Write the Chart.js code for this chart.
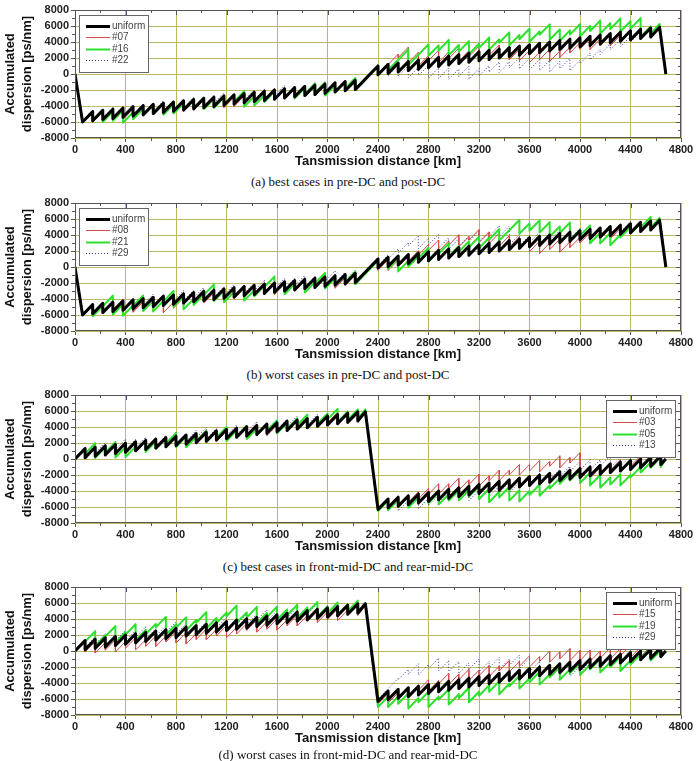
<!DOCTYPE html>
<html>
<head>
<meta charset="utf-8">
<script src="https://cdn.jsdelivr.net/npm/chart.js@4.4.0/dist/chart.umd.min.js"></script>
<style>
body { margin: 0; background: #fff; }
#wrap { position: relative; width: 696px; height: 761px; overflow: hidden; }
canvas { position: absolute; left: 0; }
.cap { position: absolute; left: 0; width: 696px; text-align: center; font: 13px "Liberation Serif", "Times New Roman", serif; color: #111; line-height: 16px; }
</style>
</head>
<body>
<div id="wrap">
  <canvas id="chartA" width="696" height="172" style="top:0px"></canvas>
  <div class="cap" id="capA" style="top:174px"></div>
  <canvas id="chartB" width="696" height="172" style="top:193px"></canvas>
  <div class="cap" id="capB" style="top:367px"></div>
  <canvas id="chartC" width="696" height="172" style="top:385px"></canvas>
  <div class="cap" id="capC" style="top:559px"></div>
  <canvas id="chartD" width="696" height="172" style="top:577px"></canvas>
  <div class="cap" id="capD" style="top:747px"></div>
</div>
<script>
// tick labels
const xTicks = [0, 400, 800, 1200, 1600, 2000, 2400, 2800, 3200, 3600, 4000, 4400, 4800];
const yTicks = [-8000, -6000, -4000, -2000, 0, 2000, 4000, 6000, 8000];

const captions = [
  '(a) best cases in pre-DC and post-DC',
  '(b) worst cases in pre-DC and post-DC',
  '(c) best cases in front-mid-DC and rear-mid-DC',
  '(d) worst cases in front-mid-DC and rear-mid-DC'
];
const labelsA = ['uniform', '#07', '#16', '#22'];
const labelsB = ['uniform', '#08', '#21', '#29'];
const labelsC = ['uniform', '#03', '#05', '#13'];
const labelsD = ['uniform', '#15', '#19', '#29'];

// DCF positions [km] : pre-DC / post-DC maps (a, b)
const kmAB = [0,60,140,220,300,380,460,540,620,700,780,860,940,1020,1100,1180,1260,1340,1420,1500,1580,1660,1740,1820,1900,1980,2060,2140,2220,2400,2480,2560,2640,2720,2800,2880,2960,3040,3120,3200,3280,3360,3440,3520,3600,3680,3760,3840,3920,4000,4080,4160,4240,4320,4400,4480,4560,4630,4680];
// accumulated dispersion before (hi) and after (lo) each DCF [ps/nm]
const uniHiAB = [0,-6000,-4700,-4550,-4400,-4250,-4100,-3950,-3800,-3650,-3500,-3350,-3200,-3050,-2900,-2750,-2600,-2450,-2300,-2150,-2000,-1850,-1700,-1550,-1400,-1250,-1100,-950,-800,1000,1200,1375,1550,1725,1900,2075,2250,2425,2600,2775,2950,3125,3300,3475,3650,3825,4000,4175,4350,4525,4700,4875,5050,5225,5400,5575,5750,5850,0];
const uniLoAB = [0,-6000,-5850,-5700,-5550,-5400,-5250,-5100,-4950,-4800,-4650,-4500,-4350,-4200,-4050,-3900,-3750,-3600,-3450,-3300,-3150,-3000,-2850,-2700,-2550,-2400,-2250,-2100,-1950,-100,75,250,425,600,775,950,1125,1300,1475,1650,1825,2000,2175,2350,2525,2700,2875,3050,3225,3400,3575,3750,3925,4100,4275,4450,4625,5850,0];

const a07Hi = [0,-6000,-4700,-4750,-4600,-4250,-4400,-4250,-3900,-3750,-3400,-3250,-3400,-3250,-2900,-2750,-2900,-2750,-2300,-1950,-1800,-1950,-1800,-1450,-1300,-1450,-1300,-950,-800,1000,1200,2475,3350,2725,2300,2975,2750,3225,2900,3475,3150,3625,3300,3075,2950,2725,3100,2875,3350,3925,4400,4375,4850,4825,5400,5375,5850,5850,0];
const a07Lo = [0,-6000,-6050,-5900,-5550,-5700,-5550,-5200,-5050,-4700,-4550,-4700,-4550,-4200,-4050,-4200,-4050,-3600,-3250,-3100,-3250,-3100,-2750,-2600,-2750,-2600,-2250,-2100,-1950,-100,1175,2050,1425,1000,1675,1450,1925,1600,2175,1850,2325,2000,1775,1650,1425,1800,1575,2050,2625,3100,3075,3550,3525,4100,4075,4550,4625,5850,0];
const a16Hi = [0,-6000,-4700,-4550,-4700,-4550,-4800,-4350,-3900,-3650,-3800,-3650,-3100,-2950,-3100,-2950,-2600,-2150,-2800,-2650,-2200,-1850,-1700,-1750,-1200,-1050,-1400,-950,-500,1100,1200,1775,3050,2425,3700,3575,4250,3625,4100,3775,4550,4325,5200,4875,5650,5325,6200,5575,5450,6225,6000,6675,6350,6925,6600,6975,5950,6250,0];
const a16Lo = [0,-6000,-5850,-6000,-5850,-6100,-5650,-5200,-4950,-5100,-4950,-4400,-4250,-4400,-4250,-3900,-3450,-4100,-3950,-3500,-3150,-3000,-3050,-2500,-2350,-2700,-2250,-1800,-1850,-100,475,1750,1125,2400,2275,2950,2325,2800,2475,3250,3025,3900,3575,4350,4025,4900,4275,4150,4925,4700,5375,5050,5625,5300,5675,4650,5025,6250,0];
const a22Hi = [0,-6000,-4700,-4350,-4200,-4250,-3800,-3850,-3600,-3350,-3400,-3150,-2900,-3050,-2700,-2350,-2500,-2250,-2000,-2050,-1800,-1450,-1500,-1450,-1100,-1050,-1100,-750,-500,1100,1200,1075,1050,825,1100,775,750,625,1000,675,1050,1525,1500,2075,1950,1825,1700,1575,1950,1725,2600,3075,3750,4325,4700,5275,5850,6350,0];
const a22Lo = [0,-6000,-5650,-5500,-5550,-5100,-5150,-4900,-4650,-4700,-4450,-4200,-4350,-4000,-3650,-3800,-3550,-3300,-3350,-3100,-2750,-2800,-2750,-2400,-2350,-2400,-2050,-1800,-1850,-100,-225,-250,-475,-200,-525,-550,-675,-300,-625,-250,225,200,775,650,525,400,275,650,425,1300,1775,2450,3025,3400,3975,4550,5125,6350,0];

const b08Hi = [0,-6000,-4700,-4850,-4500,-4050,-4300,-4350,-3800,-4250,-4400,-3850,-3400,-3050,-3200,-2850,-2500,-2650,-2300,-1950,-2100,-2150,-1600,-1750,-1400,-1050,-1200,-1350,-1000,1000,900,875,1350,2025,2800,3375,3250,4025,3800,4675,4350,4225,3900,3775,3450,3225,3000,3475,3150,3725,4300,4275,4850,4825,5500,5375,5950,5850,0];
const b08Lo = [0,-6000,-6150,-5800,-5350,-5600,-5650,-5100,-5550,-5700,-5150,-4700,-4350,-4500,-4150,-3800,-3950,-3600,-3250,-3400,-3450,-2900,-3050,-2700,-2350,-2500,-2650,-2300,-1950,-400,-425,50,725,1500,2075,1950,2725,2500,3375,3050,2925,2600,2475,2150,1925,1700,2175,1850,2425,3000,2975,3550,3525,4200,4075,4650,4625,5850,0];
const b21Hi = [0,-6000,-4700,-4850,-3600,-4650,-4800,-3550,-4200,-4250,-3000,-3650,-4000,-3450,-2200,-2950,-3100,-2450,-2900,-2350,-1200,-1950,-2100,-1550,-1900,-750,-1400,-1050,-600,800,1200,1075,750,1325,2400,1975,2950,2625,3200,3775,3650,4725,4600,5875,5450,5825,5600,5075,5550,4625,5200,4275,4250,4025,5000,5475,6250,6150,0];
const b21Lo = [0,-6000,-6150,-4900,-5950,-6100,-4850,-5500,-5550,-4300,-4950,-5300,-4750,-3500,-4250,-4400,-3750,-4200,-3650,-2500,-3250,-3400,-2850,-3200,-2050,-2700,-2350,-1900,-2150,-100,-225,-550,25,1100,675,1650,1325,1900,2475,2350,3425,3300,4575,4150,4525,4300,3775,4250,3325,3900,2975,2950,2725,3700,4175,4950,4925,6150,0];
const b29Hi = [0,-6000,-4700,-4450,-4100,-4050,-4100,-3650,-3400,-3450,-3400,-2950,-2900,-2550,-2700,-2450,-2200,-2350,-2000,-1650,-1800,-1450,-1400,-1050,-1200,-950,-500,-650,-400,1200,1500,2275,3050,3925,3600,4075,3650,3525,3900,4475,4450,5125,5100,4075,3950,4325,4200,4575,4350,4825,4800,4675,5250,5125,5700,5575,6150,6050,0];
const b29Lo = [0,-6000,-5750,-5400,-5350,-5400,-4950,-4700,-4750,-4700,-4250,-4200,-3850,-4000,-3750,-3500,-3650,-3300,-2950,-3100,-2750,-2700,-2350,-2500,-2250,-1800,-1950,-1700,-1750,200,975,1750,2625,2300,2775,2350,2225,2600,3175,3150,3825,3800,2775,2650,3025,2900,3275,3050,3525,3500,3375,3950,3825,4400,4275,4850,4825,6050,0];

// DCF positions [km] : front-mid / rear-mid maps (c, d)
const kmCD = [0,80,160,240,320,400,480,560,640,720,800,880,960,1040,1120,1200,1280,1360,1440,1520,1600,1680,1760,1840,1920,2000,2080,2160,2240,2300,2400,2480,2560,2640,2720,2800,2880,2960,3040,3120,3200,3280,3360,3440,3520,3600,3680,3760,3840,3920,4000,4080,4160,4240,4320,4400,4480,4560,4640,4680];
const uniHiCD = [0,1300,1470,1640,1810,1980,2150,2320,2490,2660,2830,3000,3170,3340,3510,3680,3850,4020,4190,4360,4530,4700,4870,5040,5210,5380,5550,5720,5890,5900,-6300,-5000,-4800,-4600,-4400,-4200,-4000,-3800,-3600,-3400,-3200,-3000,-2800,-2600,-2400,-2200,-2000,-1800,-1600,-1400,-1200,-1000,-800,-600,-400,-200,0,200,400,0];
const uniLoCD = [0,170,340,510,680,850,1020,1190,1360,1530,1700,1870,2040,2210,2380,2550,2720,2890,3060,3230,3400,3570,3740,3910,4080,4250,4420,4590,4760,5900,-6300,-6100,-5900,-5700,-5500,-5300,-5100,-4900,-4700,-4500,-4300,-4100,-3900,-3700,-3500,-3300,-3100,-2900,-2700,-2500,-2300,-2100,-1900,-1700,-1500,-1300,-1100,-900,-700,0];

const c03Hi = [0,1300,1570,1540,2010,1980,1950,2420,2390,2860,2830,2800,3270,3640,3510,3480,3950,3920,4390,4360,4230,4800,4870,5240,5110,5480,5850,5720,5690,5900,-6300,-5000,-4600,-4600,-4100,-3700,-3100,-3100,-2400,-2600,-1900,-2100,-1400,-1400,-700,-700,-200,-300,400,200,800,-1000,-1100,-600,-100,-100,400,400,400,0];
const c03Lo = [0,270,240,710,680,650,1120,1090,1560,1530,1500,1970,2340,2210,2180,2650,2620,3090,3060,2930,3500,3570,3940,3810,4180,4550,4420,4390,4760,5900,-6300,-5900,-5900,-5400,-5000,-4400,-4400,-3700,-3900,-3200,-3400,-2700,-2700,-2000,-2000,-1500,-1600,-900,-1100,-500,-2300,-2400,-1900,-1400,-1400,-900,-900,-900,-700,0];
const c05Hi = [0,1300,1970,1440,2110,1480,1550,2320,2190,2560,3230,2800,2770,3540,3410,3980,3550,4120,3790,4360,4830,4500,5070,5540,5210,5680,6250,5920,6190,6200,-6500,-5200,-5100,-4700,-4800,-4200,-4200,-4400,-3900,-3900,-3400,-3700,-4100,-3500,-3900,-4000,-3200,-3300,-2400,-1800,-1400,-1700,-2000,-2300,-1900,-2000,-1000,-400,200,0];
const c05Lo = [0,670,140,810,180,250,1020,890,1260,1930,1500,1470,2240,2110,2680,2250,2820,2490,3060,3530,3200,3770,4240,3910,4380,4950,4620,4890,5060,6200,-6500,-6400,-6000,-6100,-5500,-5500,-5700,-5200,-5200,-4700,-5000,-5400,-4800,-5200,-5300,-4500,-4600,-3700,-3100,-2700,-3000,-3300,-3600,-3200,-3300,-2300,-1700,-1100,-1000,0];
const c13Hi = [0,1300,1770,2040,2010,2480,2450,2720,2590,2960,3330,3200,3570,3940,3810,3880,4250,4320,4690,4560,4930,5000,5370,5240,5610,5680,5650,6020,6090,5900,-6300,-5000,-5100,-5200,-4800,-4900,-4500,-4100,-3700,-3800,-3900,-3900,-3400,-2900,-2900,-2200,-1800,-2000,-1300,-900,-300,-100,-100,400,200,400,800,500,500,0];
const c13Lo = [0,470,740,710,1180,1150,1420,1290,1660,2030,1900,2270,2640,2510,2580,2950,3020,3390,3260,3630,3700,4070,3940,4310,4380,4350,4720,4790,4760,5900,-6300,-6400,-6500,-6100,-6200,-5800,-5400,-5000,-5100,-5200,-5200,-4700,-4200,-4200,-3500,-3100,-3300,-2600,-2200,-1600,-1400,-1400,-900,-1100,-900,-500,-800,-800,-700,0];

const d15Hi = [0,1300,1170,1040,1410,1180,1650,1420,1890,1860,2430,2300,2170,2740,2710,3180,2950,3420,3890,3660,4030,3900,4470,4440,5010,4880,5250,5120,5790,5600,-6600,-5300,-5200,-4500,-4600,-3600,-3700,-2800,-2900,-2300,-2400,-1800,-1900,-1200,-1300,-600,-700,0,-100,300,100,100,0,400,300,700,500,600,600,0];
const d15Lo = [0,-130,-260,110,-120,350,120,590,560,1130,1000,870,1440,1410,1880,1650,2120,2590,2360,2730,2600,3170,3140,3710,3580,3950,3820,4490,4460,5600,-6600,-6500,-5800,-5900,-4900,-5000,-4100,-4200,-3600,-3700,-3100,-3200,-2500,-2600,-1900,-2000,-1300,-1400,-1000,-1200,-1200,-1300,-900,-1000,-600,-800,-700,-700,-700,0];
const d19Hi = [0,1300,2470,1940,3110,2380,3350,2620,3390,4260,3330,4200,3870,4840,4110,4780,5650,4820,5490,4760,5530,5200,5770,5440,6110,5580,6050,5820,6290,6000,-7000,-5700,-5700,-5300,-5900,-5100,-5700,-4800,-5400,-4600,-5100,-4300,-3800,-4100,-3100,-3400,-2600,-2900,-2000,-2300,-1500,-1700,-1000,-1400,-700,-1200,-400,400,100,0];
const d19Lo = [0,1170,640,1810,1080,2050,1320,2090,2960,2030,2900,2570,3540,2810,3480,4350,3520,4190,3460,4230,3900,4470,4140,4810,4280,4750,4520,4990,4860,6000,-7000,-7000,-6600,-7200,-6400,-7000,-6100,-6700,-5900,-6400,-5600,-5100,-5400,-4400,-4700,-3900,-4200,-3300,-3600,-2800,-3000,-2300,-2700,-2000,-2500,-1700,-900,-1200,-800,0];
const d29Hi = [0,1300,1770,2140,2010,2580,2550,3020,2790,3160,3630,3400,3770,3640,4210,4180,4050,4620,4590,5160,5030,5000,5470,5440,5910,5680,6050,5920,6290,6000,-6000,-4700,-3400,-2300,-1600,-1700,-900,-1200,-1300,-1500,-1000,-1300,-800,-1000,-500,-900,-1300,-1800,-2100,-2300,-1900,-1400,-900,-400,-500,100,0,400,500,0];
const d29Lo = [0,470,840,710,1280,1250,1720,1490,1860,2330,2100,2470,2340,2910,2880,2750,3320,3290,3860,3730,3700,4170,4140,4610,4380,4750,4620,4990,4860,6000,-6000,-4700,-3600,-2900,-3000,-2200,-2500,-2600,-2800,-2300,-2600,-2100,-2300,-1800,-2200,-2600,-3100,-3400,-3600,-3200,-2700,-2200,-1700,-1800,-1200,-1300,-900,-800,-700,0];

const FONT = '"Liberation Sans", Arial, sans-serif';
const GRID = '#bdb862';
const AXIS = '#555';

// line look of uniform / 1st / 2nd / 3rd map
const looks = [
  { color: '#000000', width: 3, dash: [], order: 0 },
  { color: '#d44a4a', width: 1, dash: [], order: 2 },
  { color: '#2ee02e', width: 2, dash: [], order: 1 },
  { color: '#35359c', width: 1, dash: [1, 2], order: 3 }
];

// each DCF gives a vertical step from hi to lo at the same distance
function toPoints(km, hi, lo) {
  const pts = [];
  for (let i = 0; i < km.length; i++) {
    pts.push({ x: km[i], y: hi[i] });
    if (lo[i] !== hi[i]) pts.push({ x: km[i], y: lo[i] });
  }
  return pts;
}

const frame = {
  id: 'frame',
  afterDraw(chart) {
    const { ctx, chartArea: a, scales: { x, y } } = chart;
    ctx.save();
    ctx.strokeStyle = AXIS;
    ctx.lineWidth = 1;
    ctx.strokeRect(Math.round(a.left) + 0.5, Math.round(a.top) + 0.5,
      Math.round(a.right - a.left) - 1, Math.round(a.bottom - a.top) - 1);
    ctx.beginPath();
    for (let v = 200; v < 4800; v += 200) {
      const px = Math.round(x.getPixelForValue(v)) + 0.5;
      ctx.moveTo(px, a.top); ctx.lineTo(px, a.top + (v % 400 ? 3 : 5));
      if (v % 400) { ctx.moveTo(px, a.bottom); ctx.lineTo(px, a.bottom + 3); }
    }
    for (let v = -7000; v < 8000; v += 1000) {
      const py = Math.round(y.getPixelForValue(v)) + 0.5;
      ctx.moveTo(a.right, py); ctx.lineTo(a.right - (v % 2000 ? 3 : 5), py);
      if (v % 2000) { ctx.moveTo(a.left, py); ctx.lineTo(a.left - 3, py); }
    }
    ctx.stroke();
    ctx.restore();
  }
};

const boxLegend = {
  id: 'boxLegend',
  afterDraw(chart, args, opts) {
    const { ctx, chartArea: a } = chart;
    const w = 69, h = 57, row = 11.3;
    const x0 = opts.side === 'right' ? Math.round(a.right) - 6 - w : Math.round(a.left) + 4;
    const y0 = Math.round(a.top) + 5;
    ctx.save();
    ctx.fillStyle = '#fff';
    ctx.fillRect(x0, y0, w, h);
    ctx.strokeStyle = '#666';
    ctx.lineWidth = 1;
    ctx.strokeRect(x0 + 0.5, y0 + 0.5, w, h);
    ctx.font = '10px ' + FONT;
    ctx.textBaseline = 'middle';
    chart.data.datasets.forEach((ds, i) => {
      const yy = Math.round(y0 + 11 + i * row) + 0.5;
      ctx.beginPath();
      ctx.strokeStyle = ds.borderColor;
      ctx.lineWidth = ds.borderWidth;
      ctx.setLineDash(ds.borderDash || []);
      ctx.moveTo(x0 + 7, yy);
      ctx.lineTo(x0 + 31, yy);
      ctx.stroke();
      ctx.setLineDash([]);
      ctx.fillStyle = '#444';
      ctx.fillText(ds.label, x0 + 33, yy);
    });
    ctx.restore();
  }
};

function makeChart(id, km, series, labels, side) {
  const datasets = series.map((s, i) => ({
    label: labels[i],
    data: toPoints(km, s[0], s[1]),
    borderColor: looks[i].color,
    borderWidth: looks[i].width,
    borderDash: looks[i].dash,
    borderJoinStyle: 'round',
    order: looks[i].order,
    pointRadius: 0,
    fill: false,
    tension: 0
  }));
  return new Chart(document.getElementById(id), {
    type: 'line',
    data: { datasets },
    plugins: [frame, boxLegend],
    options: {
      responsive: false,
      animation: false,
      events: [],
      layout: { padding: { left: 0, right: 15, top: 10, bottom: 0 } },
      scales: {
        x: {
          type: 'linear', min: 0, max: 4800,
          afterBuildTicks: s => { s.ticks = xTicks.map(v => ({ value: v })); },
          afterFit: s => { s.height = 34; },
          grid: { color: GRID, lineWidth: 1, tickLength: 4, tickColor: AXIS },
          border: { display: false },
          ticks: { font: { family: FONT, size: 11, weight: 'bold' }, color: '#222', padding: 1,
            maxRotation: 0, autoSkip: false, callback: v => String(v) },
          title: { display: true, text: 'Tansmission distance [km]', color: '#111',
            font: { family: FONT, size: 13, weight: 'bold' }, padding: { top: 0, bottom: 3 } }
        },
        y: {
          min: -8000, max: 8000,
          afterBuildTicks: s => { s.ticks = yTicks.map(v => ({ value: v })); },
          afterFit: s => { s.width = 75; },
          grid: { color: GRID, lineWidth: 1, tickLength: 4, tickColor: AXIS },
          border: { display: false },
          ticks: { font: { family: FONT, size: 11, weight: 'bold' }, color: '#222', padding: 2,
            autoSkip: false, callback: v => String(v) },
          title: { display: true, text: ['Accumulated', 'dispersion [ps/nm]'], color: '#111',
            font: { family: FONT, size: 13, weight: 'bold', lineHeight: 1.3 }, padding: { top: 2, bottom: 0 } }
        }
      },
      plugins: {
        legend: { display: false },
        tooltip: { enabled: false },
        boxLegend: { side }
      }
    }
  });
}

makeChart('chartA', kmAB, [[uniHiAB, uniLoAB], [a07Hi, a07Lo], [a16Hi, a16Lo], [a22Hi, a22Lo]], labelsA, 'left');
makeChart('chartB', kmAB, [[uniHiAB, uniLoAB], [b08Hi, b08Lo], [b21Hi, b21Lo], [b29Hi, b29Lo]], labelsB, 'left');
makeChart('chartC', kmCD, [[uniHiCD, uniLoCD], [c03Hi, c03Lo], [c05Hi, c05Lo], [c13Hi, c13Lo]], labelsC, 'right');
makeChart('chartD', kmCD, [[uniHiCD, uniLoCD], [d15Hi, d15Lo], [d19Hi, d19Lo], [d29Hi, d29Lo]], labelsD, 'right');

['capA', 'capB', 'capC', 'capD'].forEach((id, i) => {
  document.getElementById(id).textContent = captions[i];
});
</script>
</body>
</html>
